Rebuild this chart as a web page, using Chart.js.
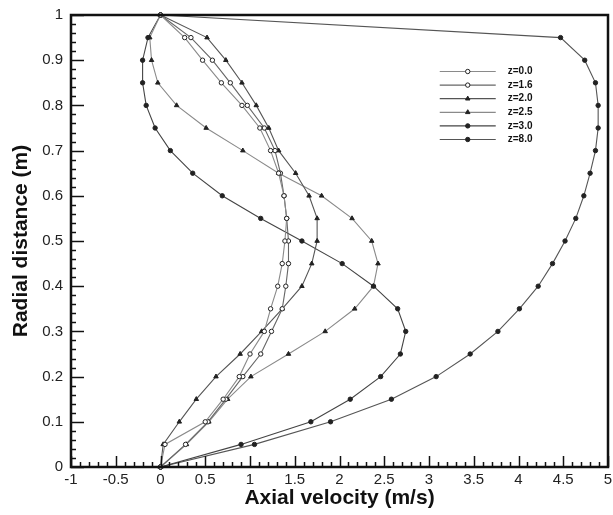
<!DOCTYPE html>
<html lang="en">
<head>
    <meta charset="UTF-8">
    <title>Axial velocity profiles</title>
    <script src="https://cdn.jsdelivr.net/npm/chart.js"></script>
    <style>
        body { margin: 0; background: white; }
        #wrap { width: 613px; height: 515px; }
    </style>
</head>
<body>
    <div id="wrap"><canvas id="profileChart" width="613" height="515"></canvas></div>
    <script>
        // radial positions (m), shared by every profile
        const radial = [0, 0.05, 0.1, 0.15, 0.2, 0.25, 0.3, 0.35, 0.4, 0.45, 0.5,
                        0.55, 0.6, 0.65, 0.7, 0.75, 0.8, 0.85, 0.9, 0.95, 1];

        // axial velocity (m/s) at each radial position
        const z00 = [0, 0.05, 0.5, 0.7, 0.88, 1.0, 1.16, 1.23, 1.31, 1.36, 1.39,
                     1.41, 1.38, 1.32, 1.23, 1.11, 0.91, 0.68, 0.47, 0.27, 0];
        const z16 = [0, 0.28, 0.53, 0.73, 0.92, 1.12, 1.24, 1.36, 1.40, 1.43, 1.43,
                     1.41, 1.38, 1.34, 1.28, 1.16, 0.97, 0.78, 0.58, 0.34, 0];
        const z20 = [0, 0.03, 0.21, 0.4, 0.62, 0.89, 1.13, 1.36, 1.58, 1.69, 1.75,
                     1.75, 1.66, 1.51, 1.32, 1.21, 1.07, 0.91, 0.73, 0.52, 0];
        const z25 = [0, 0.29, 0.54, 0.75, 1.01, 1.43, 1.84, 2.17, 2.38, 2.43, 2.36,
                     2.14, 1.8, 1.32, 0.92, 0.51, 0.18, -0.03, -0.1, -0.12, 0];
        const z30 = [0, 0.9, 1.68, 2.12, 2.46, 2.68, 2.74, 2.65, 2.38, 2.03, 1.58,
                     1.12, 0.69, 0.36, 0.11, -0.06, -0.16, -0.2, -0.2, -0.14, 0];
        const z80 = [0, 1.05, 1.9, 2.58, 3.08, 3.46, 3.77, 4.01, 4.22, 4.38, 4.52,
                     4.64, 4.73, 4.8, 4.86, 4.89, 4.89, 4.86, 4.74, 4.47, 0];

        const seriesLabels = ['z=0.0', 'z=1.6', 'z=2.0', 'z=2.5', 'z=3.0', 'z=8.0'];
        const seriesValues = [z00, z16, z20, z25, z30, z80];
        const markerStyles = ['circle', 'circle', 'triangle', 'triangle', 'circle', 'circle'];
        const markerHollow = [true, true, false, false, false, false];
        const lineGreys = ['#8a8a8a', '#666', '#555', '#8a8a8a', '#444', '#555'];

        const datasets = seriesValues.map((vals, i) => ({
            label: seriesLabels[i],
            data: vals.map((v, k) => ({ x: v, y: radial[k] })),
            showLine: true,
            borderColor: lineGreys[i],
            borderWidth: 1.1,
            pointStyle: markerStyles[i],
            pointRadius: markerStyles[i] === 'triangle' ? 2.6 : 2.2,
            pointBackgroundColor: markerHollow[i] ? '#fff' : '#222',
            pointBorderColor: '#222',
            pointBorderWidth: 1,
            clip: false
        }));

        // inward ticks, frame and an inset legend
        const framePlugin = {
            id: 'frame',
            afterDraw(chart) {
                const ctx = chart.ctx;
                const xs = chart.scales.x, ys = chart.scales.y;
                const a = chart.chartArea;
                ctx.save();
                ctx.strokeStyle = '#111';
                ctx.lineWidth = 1.5;
                // x ticks every 0.1, major every 0.5
                for (let i = -10; i <= 50; i++) {
                    const px = Math.round(xs.getPixelForValue(i / 10)) + 0.5;
                    const len = i % 5 === 0 ? 11 : 5;
                    ctx.beginPath();
                    ctx.moveTo(px, a.bottom);
                    ctx.lineTo(px, a.bottom - len);
                    ctx.stroke();
                }
                // y ticks every 0.02, major every 0.1
                for (let i = 0; i <= 50; i++) {
                    const py = Math.round(ys.getPixelForValue(i / 50)) + 0.5;
                    const len = i % 5 === 0 ? 13 : 5;
                    ctx.beginPath();
                    ctx.moveTo(a.left, py);
                    ctx.lineTo(a.left + len, py);
                    ctx.stroke();
                }
                ctx.lineWidth = 2.5;
                ctx.strokeRect(a.left, a.top, a.right - a.left, a.bottom - a.top);

                // legend
                const lx = xs.getPixelForValue(3.12);
                const ly = ys.getPixelForValue(0.875);
                ctx.font = 'bold 10px "Liberation Sans", Arial, sans-serif';
                ctx.textBaseline = 'middle';
                chart.data.datasets.forEach((ds, i) => {
                    const y = ly + i * 13.6;
                    ctx.strokeStyle = ds.borderColor;
                    ctx.lineWidth = 1.2;
                    ctx.beginPath();
                    ctx.moveTo(lx, y);
                    ctx.lineTo(lx + 56, y);
                    ctx.stroke();
                    ctx.fillStyle = ds.pointBackgroundColor;
                    ctx.strokeStyle = '#222';
                    ctx.lineWidth = 1;
                    Chart.helpers.drawPoint(ctx, { pointStyle: ds.pointStyle, radius: ds.pointRadius, borderWidth: 1 }, lx + 28, y);
                    ctx.fillStyle = '#111';
                    ctx.fillText(ds.label, lx + 68, y);
                });
                ctx.restore();
            }
        };

        const tickFont = { family: '"Liberation Sans", Arial, sans-serif', size: 15 };
        const titleFont = { family: '"Liberation Sans", Arial, sans-serif', size: 21, weight: 'bold' };
        const plainNumber = v => String(Number(Number(v).toFixed(2)));

        new Chart(document.getElementById('profileChart'), {
            type: 'scatter',
            data: { datasets: datasets },
            options: {
                responsive: false,
                animation: false,
                layout: { padding: { top: 15, right: 2, left: 0, bottom: 0 } },
                plugins: { legend: { display: false }, tooltip: { enabled: false } },
                scales: {
                    x: {
                        type: 'linear', min: -1, max: 5,
                        ticks: { stepSize: 0.5, color: '#222', font: tickFont, padding: 4, maxRotation: 0, callback: plainNumber },
                        grid: { display: false, drawTicks: false },
                        border: { display: false },
                        title: { display: true, text: 'Axial velocity (m/s)', color: '#111', font: titleFont, padding: { top: 0, bottom: 4 } },
                        afterFit(s) { s.height = 48; s.paddingLeft = 0; s.paddingRight = 0; }
                    },
                    y: {
                        type: 'linear', min: 0, max: 1,
                        ticks: { stepSize: 0.1, color: '#222', font: tickFont, padding: 8, callback: plainNumber },
                        grid: { display: false, drawTicks: false },
                        border: { display: false },
                        title: { display: true, text: 'Radial distance (m)', color: '#111', font: titleFont, padding: { top: 9, bottom: 0 } },
                        afterFit(s) { s.width = 71; s.paddingTop = 0; s.paddingBottom = 0; }
                    }
                }
            },
            plugins: [framePlugin]
        });
    </script>
</body>
</html>
